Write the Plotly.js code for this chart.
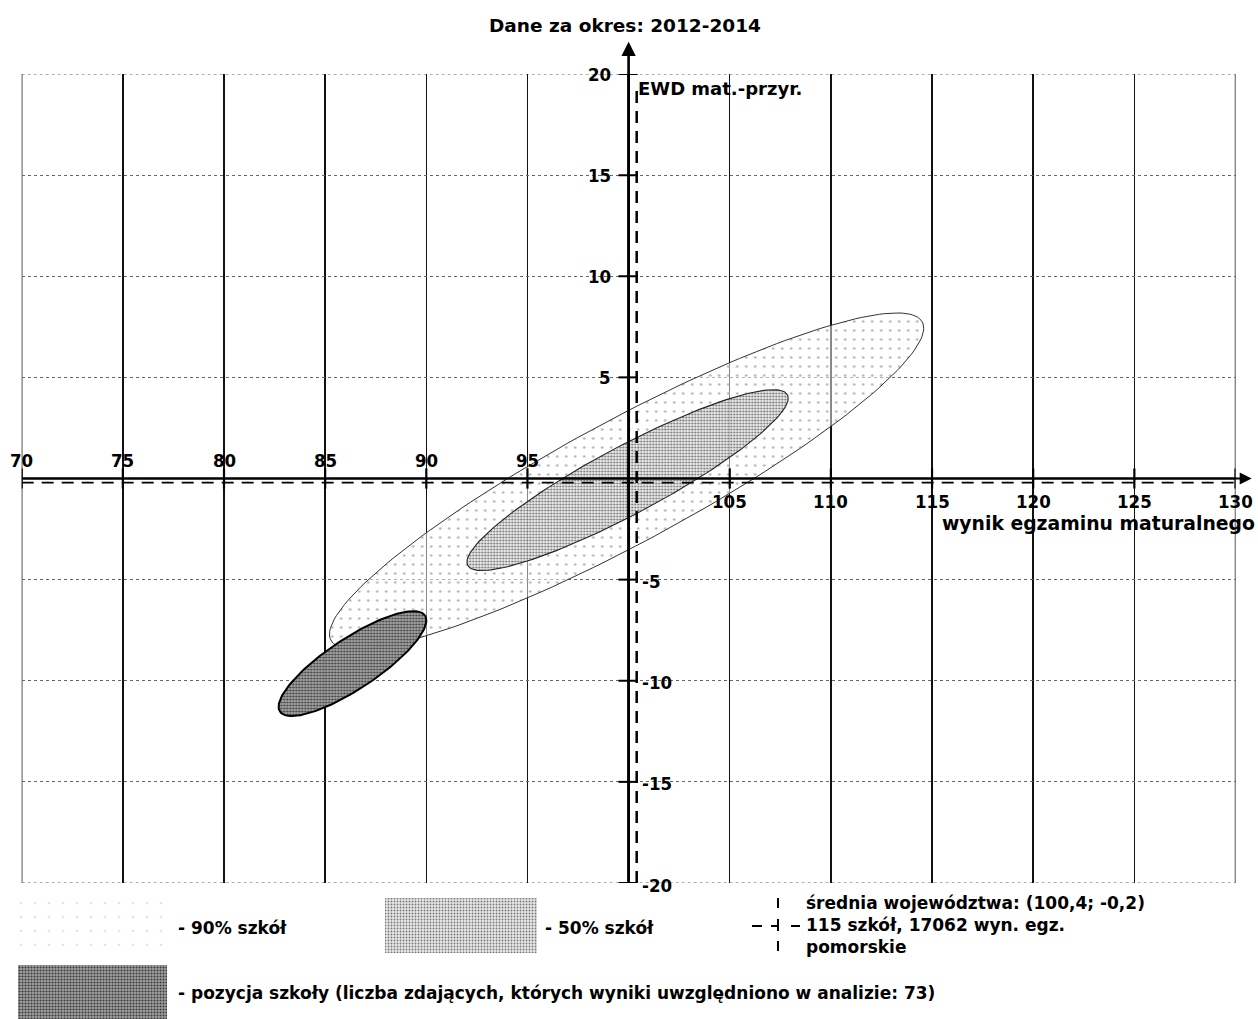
<!DOCTYPE html>
<html>
<head>
<meta charset="utf-8">
<script src="https://cdn.plot.ly/plotly-3.0.1.min.js"></script>
<style>html,body{margin:0;padding:0;background:#fff;}#chart{width:1258px;height:1019px;}</style>
</head>
<body>
<div id="chart"></div>
<script>
// ---- data ----
const chartTitle = 'Dane za okres: 2012-2014';
const xTitle = 'wynik egzaminu maturalnego';
const yTitle = 'EWD mat.-przyr.';
const xTicks = [70, 75, 80, 85, 90, 95, 100, 105, 110, 115, 120, 125, 130];
const yTicks = [-20, -15, -10, -5, 0, 5, 10, 15, 20];
const regionNames = ['90% szkół', '50% szkół', 'pozycja szkoły'];
const centreX = [99.9, 99.95, 86.35];
const centreY = [-0.13, -0.08, -9.15];
const semiMajor = [16.6, 8.96, 4.3];
const semiMinor = [3.05, 1.67, 1.25];
const tiltDeg = [28.3, 28.1, 33.5];
const meanX = 100.4;
const meanY = -0.2;
const legendTexts = ['- 90% szkół', '- 50% szkół',
  '- pozycja szkoły (liczba zdających, których wyniki uwzględniono w analizie: 73)'];
const meanTexts = ['średnia województwa: (100,4; -0,2)', '115 szkół, 17062 wyn. egz.', 'pomorskie'];

// ---- page geometry ----
const W = 1258, H = 1019;
const px0 = 21.7, px1 = 1235.5, pyTop = 74, pyBot = 883;
const xMin = xTicks[0], xMax = xTicks[xTicks.length - 1];
const yMin = yTicks[0], yMax = yTicks[yTicks.length - 1];

function ellipse(i) {
  const n = 180, t = tiltDeg[i] * Math.PI / 180;
  const xs = [], ys = [];
  for (let k = 0; k <= n; k++) {
    const u = 2 * Math.PI * k / n;
    const ex = semiMajor[i] * Math.cos(u), ey = semiMinor[i] * Math.sin(u);
    xs.push(centreX[i] + ex * Math.cos(t) - ey * Math.sin(t));
    ys.push(centreY[i] + ex * Math.sin(t) + ey * Math.cos(t));
  }
  return {xs, ys};
}

const fills = [
  {line: {color: '#333', width: 1}, pat: {shape: '.', fgcolor: '#b0b0b0', bgcolor: 'rgba(255,255,255,0.5)', size: 9, solidity: 0.06}},
  {line: {color: '#222', width: 1.1}, pat: {shape: '.', fgcolor: '#666', bgcolor: 'rgba(228,228,228,0.7)', size: 3, solidity: 0.3}},
  {line: {color: '#000', width: 2}, pat: {shape: '.', fgcolor: '#3a3a3a', bgcolor: 'rgba(160,160,160,0.95)', size: 3, solidity: 0.4}}
];

const traces = regionNames.map((nm, i) => {
  const e = ellipse(i);
  return {x: e.xs, y: e.ys, name: nm, type: 'scatter', mode: 'lines', fill: 'toself',
    fillcolor: 'rgba(0,0,0,0)', fillpattern: fills[i].pat, line: fills[i].line,
    hoverinfo: 'skip', showlegend: false, xaxis: 'x', yaxis: 'y'};
});

// legend swatches (pixel-coordinate overlay axes)
const swatchPats = [
  {shape: '.', fgcolor: '#e6e6e6', bgcolor: 'rgba(255,255,255,1)', size: 14, solidity: 0.03},
  {shape: '.', fgcolor: '#777', bgcolor: 'rgba(232,232,232,1)', size: 3, solidity: 0.3},
  {shape: '.', fgcolor: '#3a3a3a', bgcolor: 'rgba(160,160,160,1)', size: 3, solidity: 0.4}
];
const swatches = [
  {x0: 18, x1: 167, y0: 898, y1: 952, i: 0},
  {x0: 385, x1: 537, y0: 898, y1: 953, i: 1},
  {x0: 18, x1: 167, y0: 965, y1: 1019, i: 2}
];
swatches.forEach(s => {
  traces.push({x: [s.x0, s.x1, s.x1, s.x0, s.x0], y: [s.y0, s.y0, s.y1, s.y1, s.y0],
    type: 'scatter', mode: 'lines', fill: 'toself', fillcolor: 'rgba(0,0,0,0)',
    fillpattern: swatchPats[s.i], line: {width: 0, color: 'rgba(0,0,0,0)'},
    hoverinfo: 'skip', showlegend: false, xaxis: 'x2', yaxis: 'y2'});
});

const shapes = [];
// plot borders (grid lines at the range ends)
shapes.push({type: 'line', xref: 'x', yref: 'y', x0: xMin, x1: xMin, y0: yMin, y1: yMax, line: {color: '#111', width: 1.4}, layer: 'below'});
shapes.push({type: 'line', xref: 'x', yref: 'y', x0: xMax, x1: xMax, y0: yMin, y1: yMax, line: {color: '#111', width: 1.4}, layer: 'below'});
shapes.push({type: 'line', xref: 'x', yref: 'y', x0: xMin, x1: xMax, y0: yMax, y1: yMax, line: {color: '#666', width: 1, dash: 'dot'}, layer: 'below'});
shapes.push({type: 'line', xref: 'x', yref: 'y', x0: xMin, x1: xMax, y0: yMin, y1: yMin, line: {color: '#666', width: 1, dash: 'dot'}, layer: 'below'});
// mean lines
shapes.push({type: 'line', xref: 'x', yref: 'y', x0: meanX, x1: meanX, y0: yMin, y1: yMax - 0.6,
  line: {color: '#000', width: 2.5, dash: '12px,8px'}, layer: 'above'});
shapes.push({type: 'line', xref: 'x', yref: 'y', x0: xMin, x1: xMax, y0: meanY, y1: meanY,
  line: {color: '#000', width: 1.8, dash: '12px,8px'}, layer: 'above'});
// main axes
shapes.push({type: 'line', xref: 'x', yref: 'y', x0: xMin, x1: xMax + 0.5, y0: 0, y1: 0,
  line: {color: '#000', width: 2}, layer: 'above'});
shapes.push({type: 'line', xref: 'x', yref: 'y', x0: 100, x1: 100, y0: yMin, y1: yMax + 1,
  line: {color: '#000', width: 2.6}, layer: 'above'});
// tick marks
xTicks.forEach(v => shapes.push({type: 'line', xref: 'x', yref: 'y', x0: v, x1: v, y0: -0.5, y1: 0.5,
  line: {color: '#000', width: 2.2}, layer: 'above'}));
yTicks.filter(v => v !== 0).forEach(v => shapes.push({type: 'line', xref: 'x', yref: 'y', x0: 99.5, x1: 100.45, y0: v, y1: v,
  line: {color: '#000', width: 2}, layer: 'above'}));
// legend mean cross
shapes.push({type: 'line', xref: 'x2', yref: 'y2', x0: 778, x1: 778, y0: 898, y1: 908, line: {color: '#000', width: 2}});
shapes.push({type: 'line', xref: 'x2', yref: 'y2', x0: 778, x1: 778, y0: 919, y1: 931, line: {color: '#000', width: 2}});
shapes.push({type: 'line', xref: 'x2', yref: 'y2', x0: 778, x1: 778, y0: 941, y1: 951, line: {color: '#000', width: 2}});
shapes.push({type: 'line', xref: 'x2', yref: 'y2', x0: 752, x1: 762, y0: 926, y1: 926, line: {color: '#000', width: 2}});
shapes.push({type: 'line', xref: 'x2', yref: 'y2', x0: 771, x1: 778, y0: 926, y1: 926, line: {color: '#000', width: 2}});
shapes.push({type: 'line', xref: 'x2', yref: 'y2', x0: 791, x1: 800, y0: 926, y1: 926, line: {color: '#000', width: 2}});

const tickFont = {family: 'DejaVu Sans Condensed, DejaVu Sans', size: 18.5, color: '#000', weight: 'bold'};
const boldFont = {family: 'DejaVu Sans', size: 18.5, color: '#000', weight: 'bold'};
const legFont = {family: 'DejaVu Sans', size: 17, color: '#000', weight: 'bold'};

const ann = [];
xTicks.filter(v => v !== 100).forEach(v => ann.push({x: v, y: 0, xref: 'x', yref: 'y', text: String(v),
  showarrow: false, font: tickFont, xanchor: 'center', yanchor: v < 100 ? 'bottom' : 'top', yshift: v < 100 ? 6 : -10}));
yTicks.filter(v => v !== 0).forEach(v => ann.push({x: 100, y: v, xref: 'x', yref: 'y', text: String(v),
  showarrow: false, font: tickFont, xanchor: v > 0 ? 'right' : 'left', xshift: v > 0 ? -16 : 11, yshift: v > 0 ? 0 : -2}));
// arrows
ann.push({x: xMax + 0.8, y: 0, ax: xMin, ay: 0, xref: 'x', yref: 'y', axref: 'x', ayref: 'y', text: '',
  showarrow: true, arrowhead: 2, arrowsize: 1.2, arrowwidth: 2, arrowcolor: '#000'});
ann.push({x: 100, y: yMax + 1.6, ax: 100, ay: yMin, xref: 'x', yref: 'y', axref: 'x', ayref: 'y', text: '',
  showarrow: true, arrowhead: 2, arrowsize: 1.1, arrowwidth: 2.6, arrowcolor: '#000'});
// titles
ann.push({x: 100, y: yMax, xref: 'x', yref: 'y', text: yTitle, showarrow: false, font: {...boldFont, size: 18},
  xanchor: 'left', yanchor: 'middle', xshift: 7, yshift: -14});
ann.push({x: xMax, y: 0, xref: 'x', yref: 'y', text: xTitle, showarrow: false, font: {...boldFont, size: 18.8},
  xanchor: 'right', yanchor: 'middle', xshift: 21, yshift: -45});
ann.push({x: 625, y: 25, xref: 'x2', yref: 'y2', text: chartTitle, showarrow: false, font: boldFont,
  xanchor: 'center', yanchor: 'middle'});
// legend texts
ann.push({x: 176, y: 928, xref: 'x2', yref: 'y2', text: legendTexts[0], showarrow: false, font: legFont, xanchor: 'left', yanchor: 'middle'});
ann.push({x: 543, y: 928, xref: 'x2', yref: 'y2', text: legendTexts[1], showarrow: false, font: legFont, xanchor: 'left', yanchor: 'middle'});
ann.push({x: 176, y: 993, xref: 'x2', yref: 'y2', text: legendTexts[2], showarrow: false, font: legFont, xanchor: 'left', yanchor: 'middle'});
meanTexts.forEach((t, k) => ann.push({x: 804, y: 903 + k * 22, xref: 'x2', yref: 'y2', text: t, showarrow: false,
  font: legFont, xanchor: 'left', yanchor: 'middle'}));

const layout = {
  width: W, height: H, margin: {l: 0, r: 0, t: 0, b: 0},
  paper_bgcolor: '#fff', plot_bgcolor: 'rgba(0,0,0,0)', showlegend: false,
  xaxis: {domain: [px0 / W, px1 / W], range: [xMin, xMax], tickvals: xTicks, showticklabels: false,
    ticks: '', showgrid: true, gridcolor: '#111', gridwidth: 1.4, zeroline: false, showline: false, fixedrange: true},
  yaxis: {domain: [1 - pyBot / H, 1 - pyTop / H], range: [yMin, yMax], tickvals: yTicks, showticklabels: false,
    ticks: '', showgrid: true, gridcolor: '#666', gridwidth: 1, griddash: 'dot', zeroline: false, showline: false, fixedrange: true},
  xaxis2: {domain: [0, 1], range: [0, W], visible: false, anchor: 'y2', fixedrange: true},
  yaxis2: {domain: [0, 1], range: [H, 0], visible: false, anchor: 'x2', fixedrange: true},
  shapes: shapes, annotations: ann
};

Plotly.newPlot('chart', traces, layout, {displayModeBar: false, staticPlot: true});
</script>
</body>
</html>
